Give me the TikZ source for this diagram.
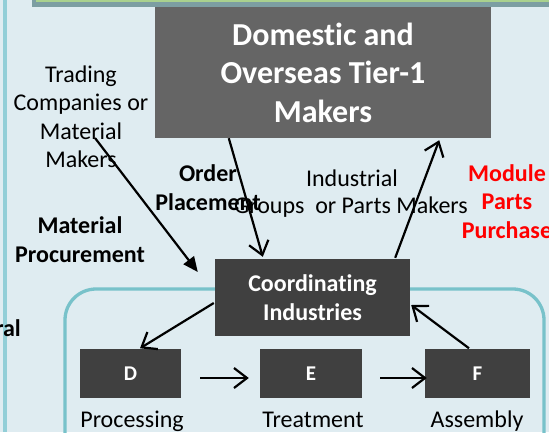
\documentclass[tikz,border=0pt]{standalone}
\usepackage{fontspec}
\setmainfont{Carlito}[Ligatures=NoCommon]
\usetikzlibrary{arrows.meta}
\definecolor{bgc}{HTML}{DFECF1}
\definecolor{stripe}{HTML}{92CED7}
\definecolor{tealc}{HTML}{78C2CA}
\definecolor{topgray}{HTML}{7C9EA2}
\definecolor{topgreen}{HTML}{A9D18E}
\definecolor{boxlight}{HTML}{656565}
\definecolor{boxdark}{HTML}{404040}
\tikzset{
  darkbox/.style={fill=boxdark, text=white, font=\bfseries\fontsize{24}{29.5}\selectfont, align=center, inner sep=0pt},
  plain/.style={font=\fontsize{24}{28.5}\selectfont, align=center, inner sep=0pt},
  boldtxt/.style={font=\bfseries\fontsize{24}{28.5}\selectfont, align=center, inner sep=0pt},
  redtxt/.style={font=\bfseries\fontsize{24}{28.5}\selectfont, align=center, inner sep=0pt, text=red},
  openarr/.style={line width=2.2pt, -{Straight Barb[length=13pt,width=20pt,line width=2.2pt]}},
  fillarr/.style={line width=2.2pt, -{Triangle[length=15pt,width=13pt]}}
}
\begin{document}
\begin{tikzpicture}[x=1pt,y=-1pt]
\useasboundingbox (0,0) rectangle (549,432);
\fill[bgc] (0,0) rectangle (549,432);
% left stripe
\fill[stripe] (3,0) rectangle (7,432);
% top bar
\fill[topgray] (32,-10) rectangle (560,6.5);
\fill[topgreen] (36,-10) rectangle (560,2);
% teal rounded frame
\draw[tealc, line width=3.3pt, rounded corners=31pt] (65,450) -- (65,289) -- (544,289) -- (544,450);

% main boxes
\node[darkbox, fill=boxlight, minimum width=336pt, minimum height=131pt,
      font=\bfseries\fontsize{32}{38.5}\selectfont] (tier) at (323,72.5)
      {Domestic and\\Overseas Tier-1\\Makers};
\node[darkbox, minimum width=195pt, minimum height=77pt] (coord) at (312.5,297.5)
      {Coordinating\\Industries};
\node[darkbox, minimum width=101pt, minimum height=49pt, font=\bfseries\fontsize{21}{25}\selectfont] (D) at (130.5,373.5) {D};
\node[darkbox, minimum width=102pt, minimum height=49pt, font=\bfseries\fontsize{21}{25}\selectfont] (E) at (311,373.5) {E};
\node[darkbox, minimum width=105pt, minimum height=49pt, font=\bfseries\fontsize{21}{25}\selectfont] (F) at (477.5,373.5) {F};

% labels
\node[plain, anchor=base] (proc) at (132,427) {Processing};
\node[plain, anchor=base] (treat) at (313,427) {Treatment};
\node[plain, anchor=base] (assem) at (477,427) {Assembly};

\node[plain] (trading) at (81,116.5) {Trading\\Companies or\\Material\\Makers};
\node[boldtxt] (order) at (208,187.5) {Order\\Placement};
\node[boldtxt] (matproc) at (80,239.5) {Material\\Procurement};
\node[plain] (indus) at (352,178.5) {Industrial};
\node[plain, anchor=west] (groups) at (234,207) {Groups~ or Parts Makers};
\node[redtxt] (module) at (507,201.5) {Module\\Parts\\Purchase};
\node[boldtxt, anchor=east] (ral) at (21,328) {ral};

% connectors
\draw[fillarr] ([xshift=14pt,yshift=-21.5pt]trading.center) -- ([xshift=-17pt,yshift=25.5pt]coord.west);
\draw[openarr] ([xshift=74pt]tier.south west) -- ([xshift=48pt,yshift=2pt]coord.north west);
\draw[openarr] ([xshift=-15pt,yshift=1pt]coord.north east) -- ([xshift=-52pt,yshift=-2pt]tier.south east);
\draw[openarr] ([xshift=-1pt,yshift=-5.5pt]coord.west) -- ([xshift=9.5pt,yshift=0.5pt]D.north);
\draw[openarr] ([xshift=-8.5pt,yshift=0.5pt]F.north) -- ([xshift=1pt,yshift=-7.5pt]coord.east);
\draw[openarr] ([xshift=19pt,yshift=-4.5pt]D.east) -- ([xshift=-11pt,yshift=-4.5pt]E.west);
\draw[openarr] ([xshift=18pt,yshift=-4.5pt]E.east) -- ([xshift=2pt,yshift=-4.5pt]F.west);
\end{tikzpicture}
\end{document}
